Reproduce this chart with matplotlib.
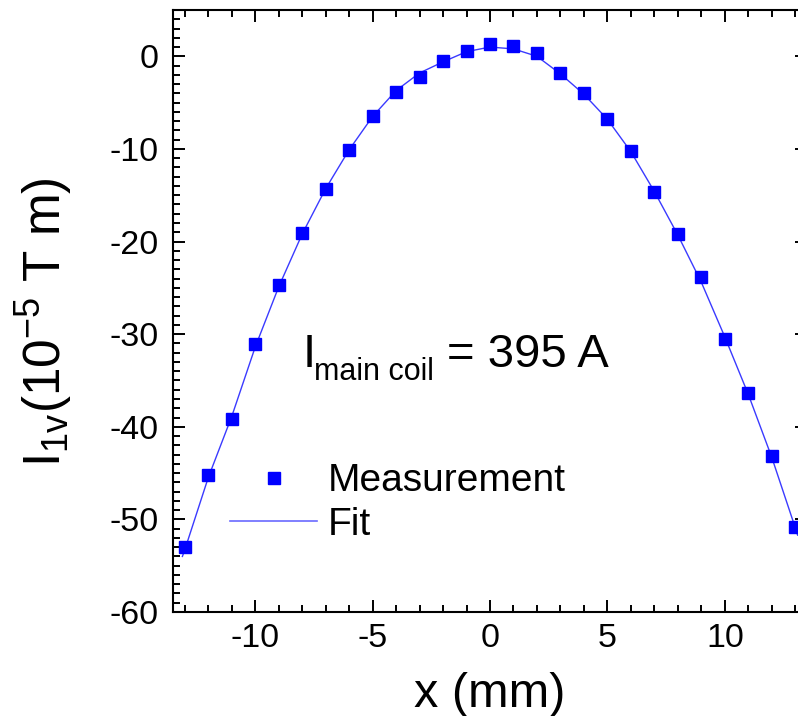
import matplotlib
matplotlib.use("Agg")
import matplotlib.pyplot as plt
from matplotlib.ticker import MultipleLocator
from matplotlib.lines import Line2D

plt.rcParams['font.family'] = ['Liberation Sans', 'DejaVu Sans']
plt.rcParams['mathtext.fontset'] = 'custom'
plt.rcParams['mathtext.rm'] = 'Liberation Sans'
plt.rcParams['mathtext.it'] = 'Liberation Sans'
plt.rcParams['axes.unicode_minus'] = False

# Measurement data
x_meas = [-13, -12, -11, -10, -9, -8, -7, -6, -5, -4, -3, -2, -1, 0,
          1, 2, 3, 4, 5, 6, 7, 8, 9, 10, 11, 12, 13]
y_meas = [-53.0, -45.2, -39.2, -31.1, -24.7, -19.1, -14.3, -10.1, -6.4, -3.9, -2.2, -0.5, 0.6, 1.3,
          1.15, 0.4, -1.8, -4.0, -6.75, -10.2, -14.7, -19.2, -23.8, -30.5, -36.3, -43.2, -50.8]

# Fit curve
x_fit = [-13.1, -13, -12, -11, -10, -9, -8, -7, -6, -5, -4, -3, -2, -1, 0,
         1, 2, 3, 4, 5, 6, 7, 8, 9, 10, 11, 12, 13, 13.1]
y_fit = [-54.0, -53.3, -45.5, -38.9, -31.4, -24.9, -19.2, -14.3, -10.1, -6.5, -3.7, -1.8, -0.6, 0.5, 1.0,
         0.8, 0.0, -1.9, -4.1, -6.8, -10.3, -14.6, -19.3, -24.4, -30.3, -36.5, -43.3, -50.9, -51.7]

W, H = 798, 716
fig = plt.figure(figsize=(W / 100, H / 100), dpi=100)
ax = fig.add_axes([173 / W, (H - 612) / H, (807 - 173) / W, (612 - 10) / H])

ax.plot(x_fit, y_fit, color='#3a3aff', lw=1.0, zorder=2)
ax.plot(x_meas, y_meas, 's', color='#0000ff', ms=8.5, mec='#0000ff', zorder=3)

ax.set_xlim(-13.5, 13.5)
ax.set_ylim(-60, 5)
ax.xaxis.set_major_locator(MultipleLocator(5))
ax.xaxis.set_minor_locator(MultipleLocator(1))
ax.yaxis.set_major_locator(MultipleLocator(10))
ax.yaxis.set_minor_locator(MultipleLocator(1))

ax.tick_params(which='both', direction='in', top=True, right=True, width=1.4, labelsize=24.5)
ax.tick_params(which='major', length=8.6)
ax.tick_params(axis='x', which='major', pad=8)
ax.tick_params(axis='y', which='major', pad=10)
ax.tick_params(which='minor', length=5)
ax.tick_params(axis='y', which='minor', right=False)
for s in ax.spines.values():
    s.set_linewidth(1.5)

ax.set_xlabel('x (mm)', fontsize=35, va='baseline')
ax.xaxis.set_label_coords((490 - 173) / (807 - 173), -(707 - 612) / (612 - 10))
ax.set_ylabel(r'$\mathregular{I_{1v}(10^{-5}\ T\ m)}$', fontsize=37, va='center')
ax.yaxis.set_label_coords(-(173 - 44) / (807 - 173), (612 - 322) / (612 - 10))

# Annotation
ax.text(-8.0, -33.5, 'I', fontsize=34, va='baseline', ha='left')
ax.text(-7.5, -34.9, 'main coil', fontsize=22, va='baseline', ha='left')
ax.text(-1.85, -33.5, '= 395 A', fontsize=34, va='baseline', ha='left')

handles = [Line2D([], [], ls='none', marker='s', color='#0000ff', ms=8.5),
           Line2D([], [], color='#6a6aff', lw=1.2)]
fig.legend(handles, ['Measurement', 'Fit'], loc='center left',
           bbox_to_anchor=(230 / W, 1 - 503 / H), bbox_transform=fig.transFigure,
           frameon=False, fontsize=28, handlelength=2.24, handletextpad=0.28,
           labelspacing=0.2, borderpad=0, borderaxespad=0)

fig.savefig('out.png', dpi=100)
